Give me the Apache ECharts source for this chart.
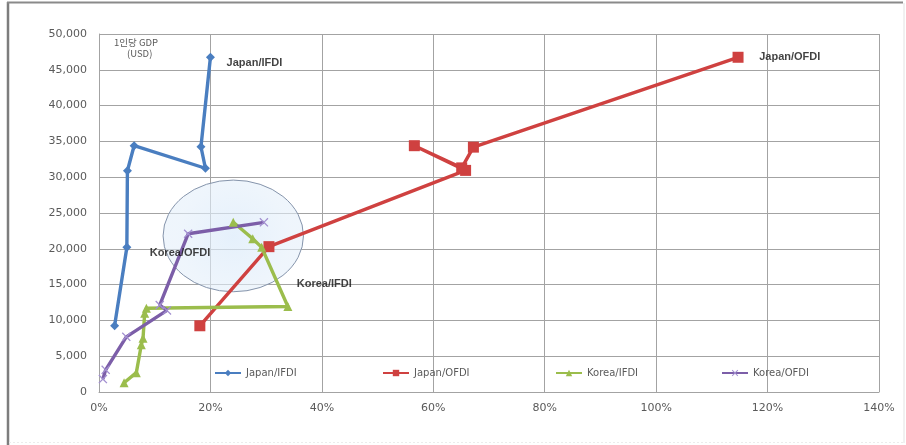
<!DOCTYPE html>
<html>
<head>
<meta charset="utf-8">
<title>FDI share vs GDP per capita</title>
<script src="https://cdn.jsdelivr.net/npm/echarts@6/dist/echarts.min.js"></script>
<style>
  html, body { margin: 0; padding: 0; background: #ffffff; }
  #chart { width: 906px; height: 445px; }
</style>
</head>
<body>
<div id="chart"></div>
<script>
// FDI ratio (%) against per-capita GDP (USD); each pair is [ratio, gdp]
const japanIFDI = [[2.8, 9250], [5.0, 20200], [5.1, 30900], [6.3, 34400], [19.1, 31250], [18.3, 34250], [20.0, 46750]];
const japanOFDI = [[18.1, 9250], [30.5, 20300], [65.8, 30950], [56.6, 34400], [65.1, 31300], [67.2, 34200], [114.7, 46750]];
const koreaIFDI = [[4.5, 1300], [6.7, 2700], [7.6, 6600], [7.9, 7500], [8.2, 11000], [8.5, 11700], [33.9, 11950], [29.2, 20200], [27.6, 21400], [24.1, 23700]];
const koreaOFDI = [[0.7, 1800], [1.2, 3100], [4.9, 7700], [12.2, 11400], [10.9, 12150], [16.0, 22100], [29.6, 23700]];

const seriesNames = ['Japan/IFDI', 'Japan/OFDI', 'Korea/IFDI', 'Korea/OFDI'];
const xTicks = [0, 20, 40, 60, 80, 100, 120, 140];
const yTicks = [0, 5000, 10000, 15000, 20000, 25000, 30000, 35000, 40000, 45000, 50000];

// series name tags placed in data space: [ratio, gdp, text]
const tags = [[22.9, 45950, 'Japan/IFDI'], [118.5, 46750, 'Japan/OFDI'], [9.1, 19400, 'Korea/OFDI'], [35.5, 15100, 'Korea/IFDI']];

// highlighted region around Korea's recent years: [centerRatio, centerGdp, radiusRatio, radiusGdp]
const highlight = [[24.1, 21800, 12.6, 7800]];

const colors = {
  'Japan/IFDI': '#4a7ec0',
  'Japan/OFDI': '#cf4140',
  'Korea/IFDI': '#9bbd4c',
  'Korea/OFDI': '#7c5ea8'
};
const crossPath = 'path://M0,1L1,0L5,4L9,0L10,1L6,5L10,9L9,10L5,6L1,10L0,9L4,5Z';
const symbols = {
  'Japan/IFDI': { symbol: 'diamond', size: 9 },
  'Japan/OFDI': { symbol: 'rect', size: 11 },
  'Korea/IFDI': { symbol: 'triangle', size: 9 },
  'Korea/OFDI': { symbol: crossPath, size: 9 }
};
const seriesData = {
  'Japan/IFDI': japanIFDI,
  'Japan/OFDI': japanOFDI,
  'Korea/IFDI': koreaIFDI,
  'Korea/OFDI': koreaOFDI
};

const labelFont = 'DejaVu Sans, Noto Sans, sans-serif';
const textGray = '#5a5a5a';
const gridGray = '#a3a3a3';

const chart = echarts.init(document.getElementById('chart'), null, { renderer: 'canvas' });

const lineSeries = seriesNames.map(name => ({
  name: name,
  type: 'line',
  data: seriesData[name],
  z: 3,
  symbol: symbols[name].symbol,
  symbolSize: symbols[name].size,
  showAllSymbol: true,
  lineStyle: { color: colors[name], width: 3.4 },
  itemStyle: {
    color: name === 'Korea/OFDI' ? '#a28fd0' : colors[name]
  },
  emphasis: { disabled: true },
  animation: false
}));

// one legend per entry so each sits at its own position
const legendLefts = [214, 382, 555, 721];
const legends = seriesNames.map((name, i) => ({
  data: [name],
  left: legendLefts[i],
  top: 368,
  itemWidth: 26,
  itemHeight: 8,
  padding: 0,
  selectedMode: false,
  textStyle: { color: textGray, fontSize: 10, fontFamily: labelFont }
}));

const option = {
  backgroundColor: '#ffffff',
  animation: false,
  color: seriesNames.map(n => colors[n]),
  grid: { left: 99, right: 27, top: 34, bottom: 53 },
  legend: legends,
  xAxis: {
    type: 'value',
    min: xTicks[0],
    max: xTicks[xTicks.length - 1],
    interval: xTicks[1] - xTicks[0],
    axisLine: { show: true, lineStyle: { color: gridGray, width: 1 } },
    axisTick: { show: false },
    splitLine: { show: true, lineStyle: { color: gridGray, width: 1 } },
    axisLabel: {
      color: textGray, fontSize: 11, fontFamily: labelFont, margin: 11,
      formatter: v => v + '%'
    }
  },
  yAxis: {
    type: 'value',
    min: yTicks[0],
    max: yTicks[yTicks.length - 1],
    interval: yTicks[1] - yTicks[0],
    axisLine: { show: true, lineStyle: { color: gridGray, width: 1 } },
    axisTick: { show: false },
    splitLine: { show: true, lineStyle: { color: gridGray, width: 1 } },
    axisLabel: {
      color: textGray, fontSize: 11, fontFamily: labelFont, margin: 12,
      formatter: v => v.toLocaleString('en-US')
    }
  },
  series: [
    {
      type: 'custom',
      name: 'highlight',
      data: highlight,
      z: 1,
      silent: true,
      clip: false,
      renderItem: function (params, api) {
        const c = api.coord([api.value(0), api.value(1)]);
        const e = api.coord([api.value(0) + api.value(2), api.value(1) + api.value(3)]);
        const rx = e[0] - c[0];
        const ry = c[1] - e[1];
        const d = 'M' + (c[0] - rx) + ',' + c[1] +
          'A' + rx + ',' + ry + ',0,1,0,' + (c[0] + rx) + ',' + c[1] +
          'A' + rx + ',' + ry + ',0,1,0,' + (c[0] - rx) + ',' + c[1] + 'Z';
        return {
          type: 'path',
          shape: { pathData: d },
          style: {
            fill: {
              type: 'radial', x: 0.5, y: 0.5, r: 0.5,
              colorStops: [
                { offset: 0, color: 'rgba(218,234,250,0.7)' },
                { offset: 1, color: 'rgba(228,239,250,0.6)' }
              ]
            },
            stroke: '#8594ab',
            lineWidth: 1
          }
        };
      }
    },
    ...lineSeries,
    {
      type: 'scatter',
      name: 'tags',
      data: tags,
      symbolSize: 0,
      z: 4,
      silent: true,
      label: {
        show: true,
        position: 'right',
        distance: 0,
        formatter: p => p.value[2],
        color: '#111111',
        fontSize: 11,
        fontWeight: 'bold',
        fontFamily: 'Liberation Sans, Arial, sans-serif'
      }
    }
  ],
  graphic: [
    {
      type: 'text',
      left: 114,
      top: 38,
      style: {
        text: '1인당 GDP',
        fill: textGray,
        font: '9.5px "Noto Sans CJK KR", sans-serif'
      }
    },
    {
      type: 'text',
      left: 127,
      top: 49,
      style: {
        text: '(USD)',
        fill: textGray,
        font: '9.5px "Noto Sans CJK KR", sans-serif'
      }
    },
    // outer frame of the chart area
    { type: 'line', shape: { x1: 8, y1: 2, x2: 8, y2: 445 }, style: { stroke: '#7d7d7d', lineWidth: 2.5 } },
    { type: 'line', shape: { x1: 7, y1: 2.5, x2: 903, y2: 2.5 }, style: { stroke: '#8a8a8a', lineWidth: 2 } },
    { type: 'line', shape: { x1: 904, y1: 3, x2: 904, y2: 443 }, style: { stroke: '#e2e2e2', lineWidth: 1 } },
    { type: 'line', shape: { x1: 9, y1: 442.5, x2: 904, y2: 442.5 }, style: { stroke: '#ececec', lineWidth: 1, lineDash: [2, 2] } }
  ]
};

chart.setOption(option);
</script>
</body>
</html>
